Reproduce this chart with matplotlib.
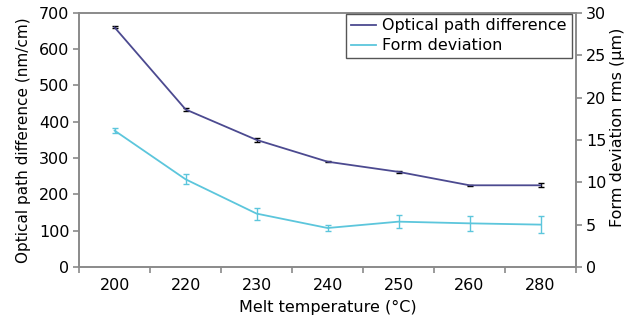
import numpy as np
import matplotlib.pyplot as plt

# data
temps = ['200', '220', '230', '240', '250', '260', '280']
opd = [660, 434, 350, 290, 262, 225, 225]          # nm/cm
opd_err = [3, 5, 6, 2, 3, 2, 5]
form = [16.1, 10.35, 6.3, 4.6, 5.35, 5.15, 5.0]    # um
form_err = [0.3, 0.6, 0.7, 0.4, 0.8, 0.9, 1.0]

c_opd = '#4c4a90'
c_form = '#5cc6dc'
c_axis = '#8a8a8a'

plt.rcParams['font.family'] = 'DejaVu Sans'
plt.rcParams['font.size'] = 11.5

fig = plt.figure(figsize=(6.33, 3.30), dpi=100)
ax1 = fig.add_axes([0.125, 0.191, 0.785, 0.770])
ax2 = ax1.twinx()

x = np.arange(len(temps))
l1 = ax1.errorbar(x, opd, yerr=opd_err, color=c_opd, lw=1.3, ecolor='black',
                  elinewidth=1, capsize=2, label='Optical path difference')
l2 = ax2.errorbar(x, form, yerr=form_err, color=c_form, lw=1.3, ecolor=c_form,
                  elinewidth=1, capsize=2, label='Form deviation')

ax1.set_xlim(-0.5, len(temps) - 0.5)
ax1.set_ylim(0, 700)
ax2.set_ylim(0, 30)
ax1.set_yticks(np.arange(0, 701, 100))
ax2.set_yticks(np.arange(0, 31, 5))
ax1.set_xticks(x)
ax1.set_xticklabels(temps)
ax1.set_xticks(np.arange(-0.5, len(temps)), minor=True)
ax1.tick_params(axis='x', which='major', length=0, pad=8)
ax1.tick_params(axis='x', which='minor', length=4, color=c_axis, width=1.2)
ax1.tick_params(axis='y', length=4, color=c_axis, width=1.2, pad=3)
ax2.tick_params(axis='y', length=4, color=c_axis, width=1.2, pad=3)

for ax in (ax1, ax2):
    for s in ax.spines.values():
        s.set_color(c_axis)
        s.set_linewidth(1.2)

ax1.set_xlabel('Melt temperature (°C)', labelpad=5)
ax1.set_ylabel('Optical path difference (nm/cm)', labelpad=6, fontsize=11)
# right axis label placed by hand, it sits a bit above the axis centre
fig.text(0.975, 0.615, 'Form deviation rms (µm)', rotation=90,
         ha='center', va='center', fontsize=11.5)

leg = ax2.legend([l1.lines[0], l2.lines[0]],
                 ['Optical path difference', 'Form deviation'],
                 loc='upper right', bbox_to_anchor=(0.993, 1.0),
                 fancybox=False, framealpha=1, edgecolor='#555555',
                 handlelength=1.6, handletextpad=0.4, borderpad=0.3,
                 labelspacing=0.3, borderaxespad=0.05)
leg.get_frame().set_linewidth(1.0)

fig.savefig('out.png', dpi=100)
